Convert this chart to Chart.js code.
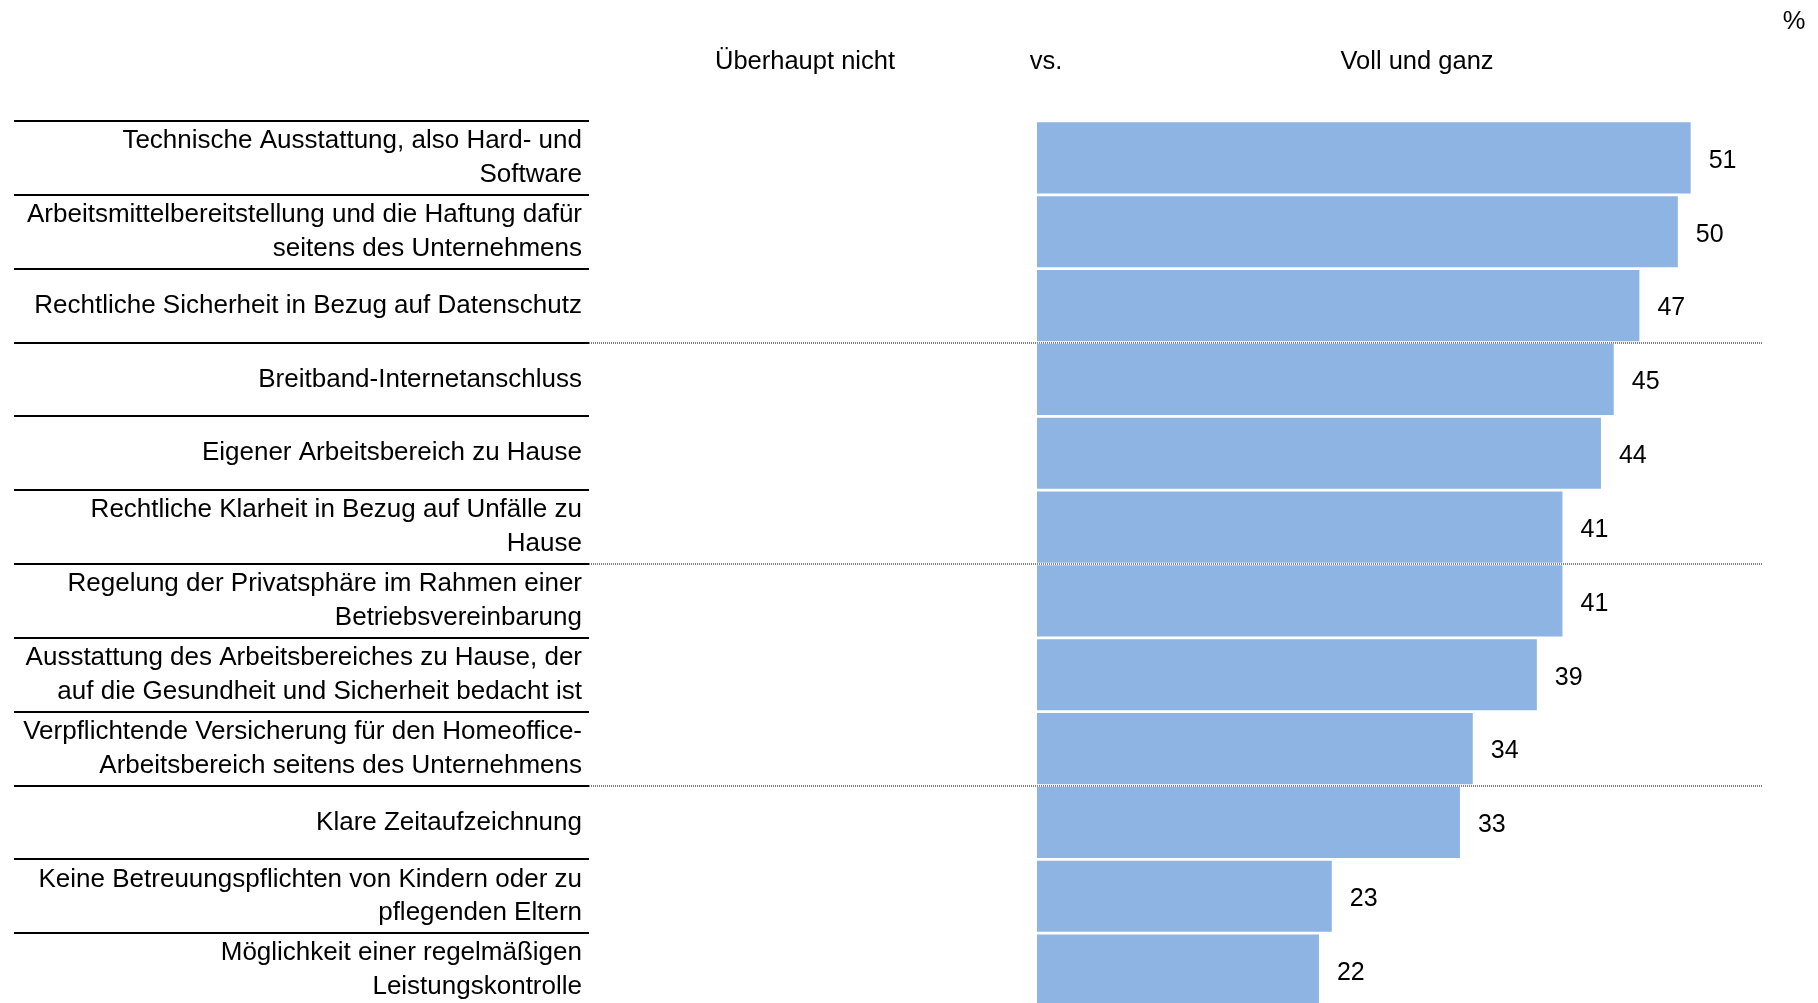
<!DOCTYPE html>
<html>
<head>
<meta charset="utf-8">
<script src="https://cdn.jsdelivr.net/npm/chart.js@4/dist/chart.umd.min.js"></script>
<style>
html, body { margin: 0; padding: 0; overflow: hidden; background: #fff; }
canvas { display: block; }
</style>
</head>
<body>
<canvas id="barCanvas" width="1818" height="1010"></canvas>
<script>
var categories = [
    ["Technische Ausstattung, also Hard- und", "Software"],
    ["Arbeitsmittelbereitstellung und die Haftung dafür", "seitens des Unternehmens"],
    "Rechtliche Sicherheit in Bezug auf Datenschutz",
    "Breitband-Internetanschluss",
    "Eigener Arbeitsbereich zu Hause",
    ["Rechtliche Klarheit in Bezug auf Unfälle zu", "Hause"],
    ["Regelung der Privatsphäre im Rahmen einer", "Betriebsvereinbarung"],
    ["Ausstattung des Arbeitsbereiches zu Hause, der", "auf die Gesundheit und Sicherheit bedacht ist"],
    ["Verpflichtende Versicherung für den Homeoffice-", "Arbeitsbereich seitens des Unternehmens"],
    "Klare Zeitaufzeichnung",
    ["Keine Betreuungspflichten von Kindern oder zu", "pflegenden Eltern"],
    ["Möglichkeit einer regelmäßigen", "Leistungskontrolle"]
];
var values = [51, 50, 47, 45, 44, 41, 41, 39, 34, 33, 23, 22];
var groupBreaks = [3, 6, 9];
var headers = ["Überhaupt nicht", "vs.", "Voll und ganz"];
var unitLabel = "%";

var FONT = "'Liberation Sans', Arial, sans-serif";

//lines under the labels and dotted group separators
var rowLines = {
    id: "rowLines",
    beforeDatasetsDraw: function(chart){
        var ctx = chart.ctx;
        var area = chart.chartArea;
        var rowH = (area.bottom - area.top) / categories.length;
        ctx.save();
        for (var i = 0; i <= categories.length; i++) {
            var y = Math.round(area.top + i * rowH);
            ctx.strokeStyle = "#000";
            ctx.lineWidth = 2;
            ctx.setLineDash([]);
            ctx.beginPath();
            ctx.moveTo(14, y);
            ctx.lineTo(589, y);
            ctx.stroke();
            if (groupBreaks.indexOf(i) >= 0) {
                ctx.strokeStyle = "#7f7f7f";
                ctx.lineWidth = 2;
                ctx.setLineDash([1, 1]);
                ctx.beginPath();
                ctx.moveTo(589, y);
                ctx.lineTo(1762, y);
                ctx.stroke();
            }
        }
        ctx.restore();
    },
    afterDatasetsDraw: function(chart){
        var ctx = chart.ctx;
        var meta = chart.getDatasetMeta(0);
        ctx.save();
        ctx.fillStyle = "#000";
        ctx.font = "25px " + FONT;
        ctx.textAlign = "left";
        ctx.textBaseline = "middle";
        meta.data.forEach(function(bar, i){
            ctx.fillText(values[i], bar.x + 18, bar.y + 3);
        });
        ctx.font = "25.5px " + FONT;
        ctx.textAlign = "center";
        ctx.fillText(headers[0], 805, 62);
        ctx.fillText(headers[1], 1046, 62);
        ctx.fillText(headers[2], 1417, 62);
        ctx.fillText(unitLabel, 1794, 22);
        ctx.restore();
    }
};

var ctx1 = document.getElementById("barCanvas");
var chart1 = new Chart(ctx1, {
    type: "bar",
    data: {
        labels: categories,
        datasets: [
        {
            data: values,
            backgroundColor: "#8eb4e3",
            borderWidth: 0,
            barPercentage: 0.965,
            categoryPercentage: 1
        }
        ]
    },
    options: {
        indexAxis: "y",
        responsive: false,
        animation: false,
        layout: { padding: { top: 121, right: 12, bottom: 3, left: 0 } },
        plugins: {
            legend: { display: false },
            tooltip: { enabled: false }
        },
        scales: {
            x: { display: false, min: 0, max: 60 },
            y: {
                grid: { display: false, drawTicks: false },
                border: { display: false },
                afterFit: function(scale){
                    scale.width = 1037;
                    scale.paddingTop = 0;
                    scale.paddingBottom = 0;
                },
                ticks: {
                    autoSkip: false,
                    padding: 455,
                    color: "#000",
                    font: { family: FONT, size: 26, lineHeight: 1.3 }
                }
            }
        }
    },
    plugins: [rowLines]
});
</script>
</body>
</html>
